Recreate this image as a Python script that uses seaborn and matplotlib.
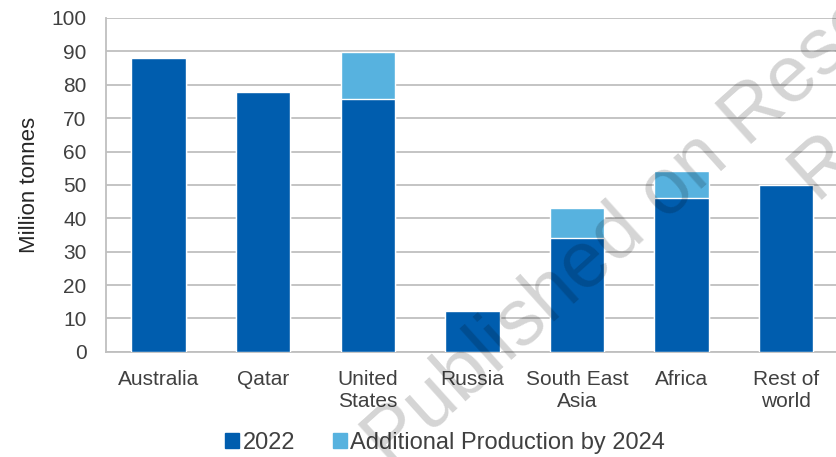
import pandas as pd
import matplotlib.pyplot as plt
from matplotlib.patches import Patch
from matplotlib.ticker import FixedLocator
import seaborn as sns

# Datos
regiones = ['Australia', 'Qatar', 'United\nStates', 'Russia', 'South East\nAsia', 'Africa', 'Rest of\nworld']
prod_2022 = [88, 77.7, 75.8, 12.1, 34.1, 46.2, 50]
adicional_2024 = [0, 0, 14.1, 0, 9.1, 7.9, 0]
yticks = list(range(0, 101, 10))

df = pd.DataFrame({'region': regiones, '2022': prod_2022, 'extra': adicional_2024})
df['total'] = df['2022'] + df['extra']

azul_osc = '#005DAE'
azul_cla = '#57B2DF'
gris = '#BFBFBF'
texto = '#404040'

sns.set_style('white')
plt.rcParams['font.family'] = ['Liberation Sans', 'DejaVu Sans']

fig = plt.figure(figsize=(8.36, 4.57), dpi=100)
ax = fig.add_axes([0.127, 0.23, 0.876, 0.7308])

# Barras apiladas: total (claro) debajo, 2022 (oscuro) encima
sns.barplot(data=df, x='region', y='total', color=azul_cla, saturation=1, width=0.52, ax=ax, zorder=2)
sns.barplot(data=df, x='region', y='2022', color=azul_osc, saturation=1, width=0.52, ax=ax, zorder=3)

ax.set_xlim(-0.5, len(regiones) - 0.5)
ax.set_ylim(0, 100)
ax.set_yticks(yticks)
ax.yaxis.grid(True, color=gris, linewidth=1.3, zorder=0)
ax.set_axisbelow(True)

# Marcas del eje x entre categorias, etiquetas en el centro
ax.xaxis.set_major_locator(FixedLocator([i - 0.5 for i in range(len(regiones) + 1)]))
ax.xaxis.set_major_formatter(plt.NullFormatter())
ax.xaxis.set_minor_locator(FixedLocator(range(len(regiones))))
ax.set_xticklabels(regiones, minor=True)
ax.tick_params(axis='x', which='major', length=6, width=1.3, color=gris, direction='out')
ax.tick_params(axis='x', which='minor', length=0, pad=13, labelsize=15, labelcolor=texto)
ax.tick_params(axis='y', length=6, width=1.3, color=gris, direction='out', pad=8,
               labelsize=15, labelcolor=texto)

for lado in ['top', 'right']:
    ax.spines[lado].set_visible(False)
for lado in ['left', 'bottom']:
    ax.spines[lado].set_color(gris)
    ax.spines[lado].set_linewidth(1.3)

ax.set_xlabel('')
ax.set_ylabel('Million tonnes', fontsize=16, color='#262626', labelpad=8)

# Leyenda
handles = [Patch(color=azul_osc, label='2022'),
           Patch(color=azul_cla, label='Additional Production by 2024')]
fig.legend(handles=handles, loc='center', bbox_to_anchor=(445 / 836, 1 - 443 / 457), ncol=2,
           frameon=False, fontsize=17, handlelength=0.6, handleheight=0.6,
           handletextpad=0.15, columnspacing=1.6, labelcolor=texto)

# Marca de agua
fig.text(390 / 836, 1 - 469 / 457, 'Published on Research', rotation=42, rotation_mode='anchor',
         ha='left', va='baseline', fontsize=57, color='black', alpha=0.17, zorder=10)
fig.text(815 / 836, 1 - 200 / 457, 'R', rotation=42, rotation_mode='anchor',
         ha='left', va='baseline', fontsize=57, color='black', alpha=0.17, zorder=10)

plt.savefig('out.png', dpi=100)
